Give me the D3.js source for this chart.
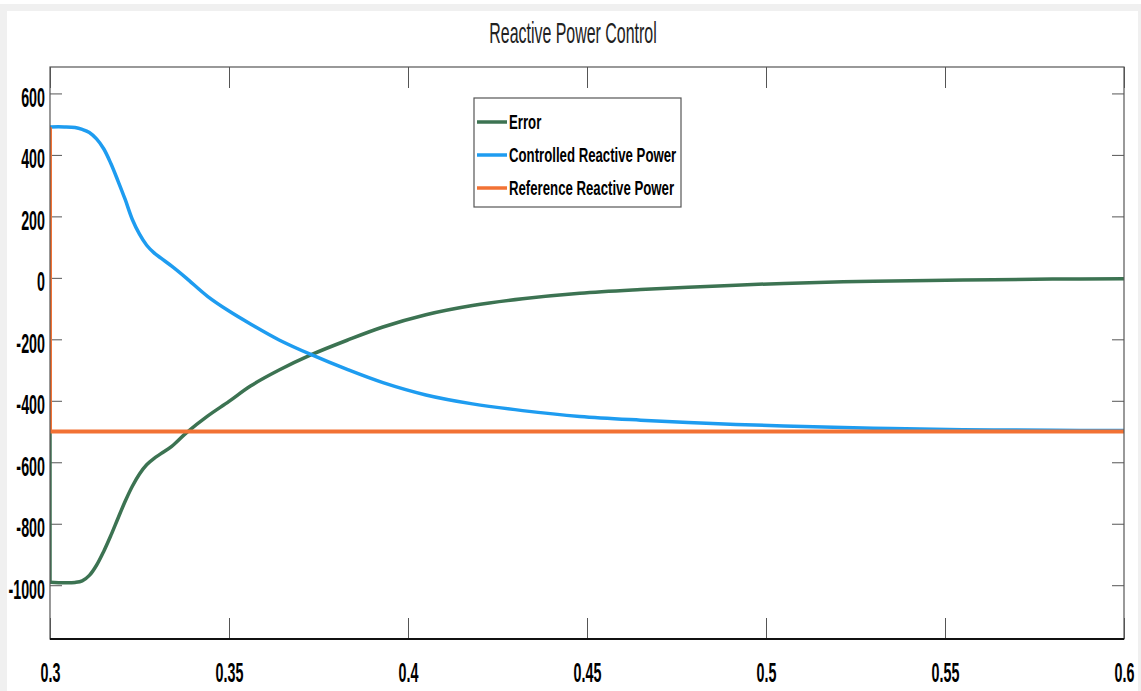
<!DOCTYPE html>
<html>
<head>
<meta charset="utf-8">
<script src="https://cdn.jsdelivr.net/npm/d3@7"></script>
<style>
  html, body { margin: 0; padding: 0; background: #f0f0f0; }
  svg { display: block; }
</style>
</head>
<body>
<script>
var ctrlTime = [0.300, 0.304, 0.307, 0.309, 0.311, 0.313, 0.315, 0.317, 0.319, 0.321,
                0.323, 0.325, 0.327, 0.329, 0.331, 0.334, 0.338, 0.344, 0.350, 0.356,
                0.364, 0.373, 0.383, 0.393, 0.405, 0.418, 0.432, 0.448, 0.465, 0.485,
                0.505, 0.530, 0.555, 0.580, 0.600]
var controlled = [491, 491, 489, 483, 473, 452, 420, 372, 315, 255,
                  190, 142, 106, 82, 64, 38, 0, -60, -108, -150,
                  -202, -250, -298, -341, -381, -410, -432, -451, -463, -474,
                  -482, -489, -494, -496, -497]
var errTime = [0.300, 0.304, 0.307, 0.309, 0.311, 0.313, 0.315, 0.317, 0.319, 0.321,
               0.323, 0.325, 0.327, 0.329, 0.331, 0.334, 0.338, 0.344, 0.350, 0.356,
               0.364, 0.373, 0.383, 0.393, 0.405, 0.418, 0.432, 0.448, 0.465, 0.485,
               0.505, 0.530, 0.555, 0.580, 0.600]
var error = [-990, -992, -991, -986, -968, -935, -890, -838, -782, -727,
             -678, -638, -608, -588, -572, -548, -505, -450, -402, -352,
             -300, -250, -203, -160, -120, -90, -68, -50, -38, -27,
             -18, -11, -7, -4, -3]
var refTime = [0.3, 0.3, 0.6]
var reference = [490, -500, -500]
var errorBefore = 0

var xTicks = [0.3, 0.35, 0.4, 0.45, 0.5, 0.55, 0.6]
var xTickLabels = ['0.3', '0.35', '0.4', '0.45', '0.5', '0.55', '0.6']
var yTicks = [-1000, -800, -600, -400, -200, 0, 200, 400, 600]
var yTickLabels = ['-1000', '-800', '-600', '-400', '-200', '0', '200', '400', '600']

var legendNames = ['Error', 'Controlled Reactive Power', 'Reference Reactive Power']
var colors = ['#3c7352', '#1e9cf0', '#f27234']

var W = 1141, H = 691
var plotLeft = 50, plotRight = 1124, plotTop = 67, plotBottom = 639

var svg = d3.select(document.body).append('svg')
  .attr('width', W)
  .attr('height', H)

svg.append('rect').attr('x', 0).attr('y', 0).attr('width', W).attr('height', 4).attr('fill', '#fff')
svg.append('rect').attr('x', 7).attr('y', 11).attr('width', 1131).attr('height', H - 11).attr('fill', '#fff')

var x = d3.scaleLinear().domain([0.3, 0.6]).range([plotLeft, plotRight])
var y = d3.scaleLinear().domain([-1175, 686]).range([plotBottom, plotTop])

svg.append('defs').append('clipPath').attr('id', 'plotclip')
  .append('rect').attr('x', plotLeft).attr('y', plotTop)
  .attr('width', plotRight - plotLeft).attr('height', plotBottom - plotTop)

function styleTicks(g) {
  g.select('.domain').remove()
  g.selectAll('.tick line').attr('stroke', '#555').attr('stroke-width', 1)
}

var bottomAxis = svg.append('g')
  .attr('transform', 'translate(0,' + plotBottom + ')')
  .call(d3.axisBottom(x).tickValues(xTicks).tickSize(-21)
    .tickFormat(function(d, i) { return xTickLabels[i] }))
bottomAxis.call(styleTicks)
bottomAxis.selectAll('.tick text')
  .attr('x', 0).attr('y', 0).attr('dy', 0)
  .attr('transform', 'translate(0,43) scale(0.53,1)')
  .attr('text-anchor', 'middle')
  .style('font-family', '"Liberation Sans", Arial, sans-serif')
  .style('font-weight', 'bold')
  .style('font-size', '27px')
  .attr('fill', '#000')

svg.append('g')
  .attr('transform', 'translate(0,' + plotTop + ')')
  .call(d3.axisTop(x).tickValues(xTicks).tickSize(-21).tickFormat(''))
  .call(styleTicks)

var leftAxis = svg.append('g')
  .attr('transform', 'translate(' + plotLeft + ',0)')
  .call(d3.axisLeft(y).tickValues(yTicks).tickSize(-12)
    .tickFormat(function(d, i) { return yTickLabels[i] }))
leftAxis.call(styleTicks)
leftAxis.selectAll('.tick text')
  .attr('x', 0).attr('y', 0).attr('dy', 0)
  .attr('transform', 'translate(-5,13) scale(0.53,1)')
  .attr('text-anchor', 'end')
  .style('font-family', '"Liberation Sans", Arial, sans-serif')
  .style('font-weight', 'bold')
  .style('font-size', '27px')
  .attr('fill', '#000')

svg.append('g')
  .attr('transform', 'translate(' + plotRight + ',0)')
  .call(d3.axisRight(y).tickValues(yTicks).tickSize(-12).tickFormat(''))
  .call(styleTicks)

var plot = svg.append('g').attr('clip-path', 'url(#plotclip)')

var smooth = d3.line()
  .x(function(d) { return x(d[0]) })
  .y(function(d) { return y(d[1]) })
  .curve(d3.curveCatmullRom.alpha(0.5))
var straight = d3.line()
  .x(function(d) { return x(d[0]) })
  .y(function(d) { return y(d[1]) })

var errPts = errTime.map(function(t, i) { return [t, error[i]] })
var ctrlPts = ctrlTime.map(function(t, i) { return [t, controlled[i]] })
var refPts = refTime.map(function(t, i) { return [t, reference[i]] })

plot.append('path')
  .attr('d', straight([[errTime[0], errorBefore], errPts[0]]))
  .attr('fill', 'none').attr('stroke', colors[0]).attr('stroke-width', 3.5)
plot.append('path')
  .attr('d', smooth(errPts))
  .attr('fill', 'none').attr('stroke', colors[0]).attr('stroke-width', 3.5)
  .attr('stroke-linejoin', 'round')

plot.append('path')
  .attr('d', smooth(ctrlPts))
  .attr('fill', 'none').attr('stroke', colors[1]).attr('stroke-width', 3.5)
  .attr('stroke-linejoin', 'round')

plot.append('path')
  .attr('d', straight(refPts))
  .attr('fill', 'none').attr('stroke', colors[2]).attr('stroke-width', 4)

// axes box
svg.append('rect')
  .attr('x', plotLeft).attr('y', plotTop)
  .attr('width', plotRight - plotLeft).attr('height', plotBottom - plotTop)
  .attr('fill', 'none').attr('stroke', '#555').attr('stroke-width', 1.2)
svg.append('line')
  .attr('x1', plotLeft).attr('x2', plotRight).attr('y1', plotBottom).attr('y2', plotBottom)
  .attr('stroke', '#111').attr('stroke-width', 2)

svg.append('text')
  .attr('transform', 'translate(573,43) scale(0.55,1)')
  .attr('text-anchor', 'middle')
  .style('font-family', '"Liberation Sans", Arial, sans-serif')
  .style('font-size', '29px')
  .attr('fill', '#222')
  .text('Reactive Power Control')

var legend = svg.append('g')
legend.append('rect')
  .attr('x', 474).attr('y', 98).attr('width', 207).attr('height', 109)
  .attr('fill', '#fff').attr('stroke', '#555').attr('stroke-width', 1.2)

legendNames.forEach(function(name, i) {
  var cy = 122 + i * 33
  legend.append('line')
    .attr('x1', 477).attr('x2', 507).attr('y1', cy).attr('y2', cy)
    .attr('stroke', colors[i]).attr('stroke-width', 3.5)
  legend.append('text')
    .attr('transform', 'translate(509,' + (cy + 7) + ') scale(0.66,1)')
    .style('font-family', '"Liberation Sans", Arial, sans-serif')
    .style('font-weight', 'bold')
    .style('font-size', '20px')
    .attr('fill', '#000')
    .text(name)
})
</script>
</body>
</html>
